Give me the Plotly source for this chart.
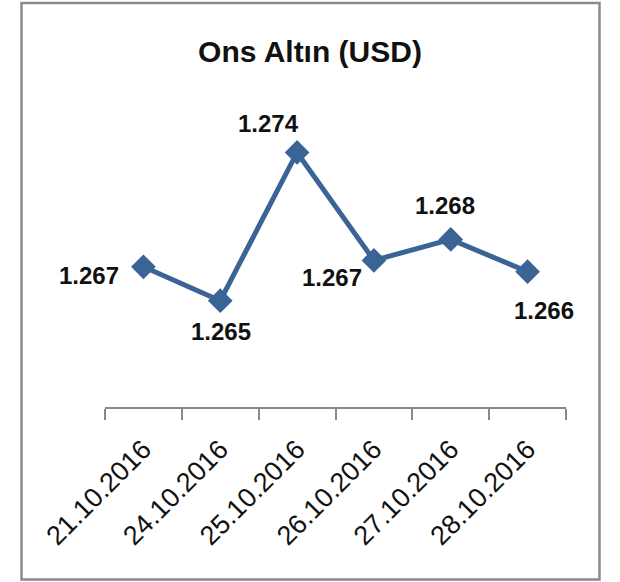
import plotly.graph_objects as go

# Data
dates = ["21.10.2016", "24.10.2016", "25.10.2016", "26.10.2016", "27.10.2016", "28.10.2016"]
values = [1266.7, 1264.6, 1273.8, 1267.1, 1268.4, 1266.4]
title_text = "Ons Altın (USD)"

# label offsets (pixels) relative to each point
label_dx = [-54, 1, -29, -42, -6, 16]
label_dy = [-9, -31, 29, -17, 34, -39]

W, H = 620, 582
L, R, T, B = 105, 54, 117, 175
line_color = "#3B6496"
FONT = "Liberation Sans, Arial, sans-serif"

fig = go.Figure()
fig.add_trace(go.Scatter(
    x=dates, y=values, mode="lines+markers",
    line=dict(color=line_color, width=5),
    marker=dict(symbol="diamond", size=19, color=line_color),
    hoverinfo="skip", showlegend=False,
))

def fmt(v):
    return f"{round(v):,}".replace(",", ".")

annotations = []
for d, v, dx, dy in zip(dates, values, label_dx, label_dy):
    annotations.append(dict(
        x=d, y=v, xref="x", yref="y", text=fmt(v), showarrow=False,
        xshift=dx, yshift=dy, xanchor="center", yanchor="middle",
        font=dict(family=FONT, size=24, color="#111111", weight="bold"),
    ))

pw = W - L - R
ph = H - T - B
bx0, bx1, by0, by1 = 21.5, 599.5, 3.0, 579.5
shapes = [dict(
    type="rect", xref="paper", yref="paper",
    x0=(bx0 - L) / pw, x1=(bx1 - L) / pw,
    y0=(H - B - by1) / ph, y1=(H - B - by0) / ph,
    line=dict(color="#8A8A8A", width=2.5), fillcolor="rgba(0,0,0,0)", layer="below",
)]

fig.update_layout(
    width=W, height=H,
    margin=dict(l=L, r=R, t=T, b=B, pad=0),
    paper_bgcolor="white", plot_bgcolor="white",
    title=dict(text=title_text, x=0.5, xref="container", xanchor="center",
               y=1 - 51 / H, yref="container", yanchor="middle",
               font=dict(family=FONT, size=30, color="#111111", weight="bold")),
    xaxis=dict(
        type="category", range=[-0.5, len(dates) - 0.5],
        showline=True, linecolor="#888888", linewidth=1.5,
        ticks="outside", tickson="boundaries", ticklen=11, tickcolor="#888888", tickwidth=1.5,
        tickangle=-45, showgrid=False, zeroline=False, ticklabelstandoff=14,
        tickfont=dict(family=FONT, size=27, color="#111111"),
        fixedrange=True,
    ),
    yaxis=dict(range=[1258, 1276], visible=False, showgrid=False, zeroline=False, fixedrange=True),
    annotations=annotations,
    shapes=shapes,
)

fig.write_html(
    "out.html",
    post_script="document.body.style.margin='0';document.body.style.overflow='hidden';",
    config={"displayModeBar": False},
)
